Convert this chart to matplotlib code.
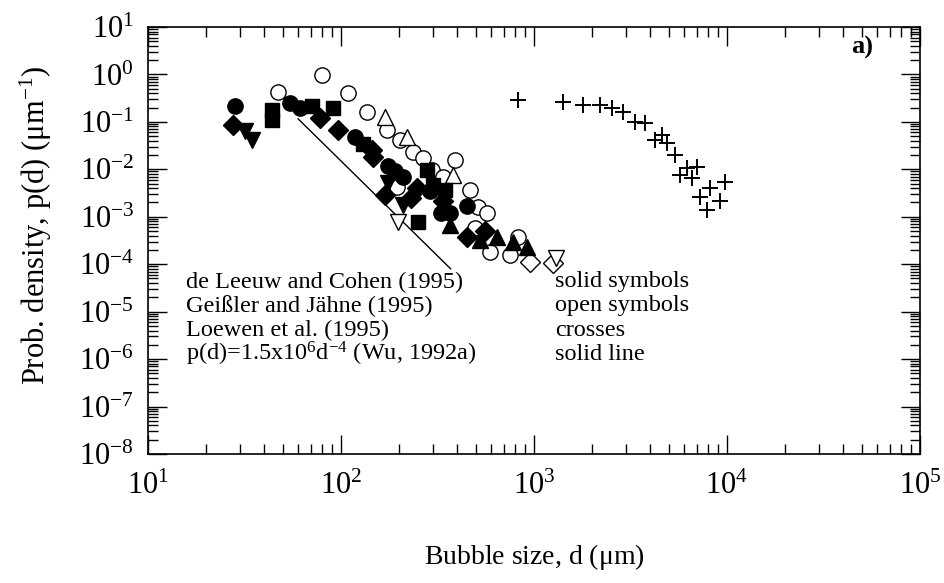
import numpy as np
import matplotlib
matplotlib.use("Agg")
import matplotlib.pyplot as plt
from matplotlib.ticker import LogLocator, LogFormatterSciNotation, NullFormatter

plt.rcParams['font.family'] = ['Liberation Serif', 'DejaVu Serif']
plt.rcParams['mathtext.fontset'] = 'custom'
plt.rcParams['mathtext.rm'] = 'Liberation Serif'
plt.rcParams['mathtext.it'] = 'Liberation Serif:italic'
plt.rcParams['mathtext.default'] = 'regular'
plt.rcParams['axes.unicode_minus'] = False

# ---- de Leeuw and Cohen (1995): solid symbols ----
solid_circle_d = [28.2, 61.4, 118, 175, 209, 290, 367, 450, 54.5, 190, 330]
solid_circle_p = [0.22, 0.20, 0.048, 0.012, 0.0068, 0.0035, 0.0012, 0.0017, 0.25, 0.009, 0.0012]

solid_diamond_d = [27.5, 77.8, 96, 145, 169, 248, 450, 337, 147, 230, 560]
solid_diamond_p = [0.086, 0.12, 0.067, 0.025, 0.0029, 0.0040, 3.7e-4, 0.0022, 0.018, 0.0025, 5.0e-4]

solid_tridown_d = [34.6, 31.8, 209, 175]
solid_tridown_p = [0.041, 0.065, 0.0018, 0.0051]

solid_square_d = [43.9, 43.9, 70.8, 91, 250, 279, 300, 346, 130]
solid_square_p = [0.109, 0.18, 0.22, 0.195, 7.7e-4, 0.0096, 0.0047, 0.0036, 0.035]

solid_triup_d = [525, 643, 778, 920, 367]
solid_triup_p = [3.2e-4, 3.7e-4, 2.9e-4, 2.3e-4, 6.6e-4]

# ---- Geissler and Jaehne (1995): open symbols ----
open_circle_d = [47.2, 79.8, 109, 137, 173, 202, 236, 266, 296, 390, 337, 466, 513, 570, 494, 195, 591, 751, 827]
open_circle_p = [0.43, 0.97, 0.41, 0.16, 0.067, 0.041, 0.023, 0.017, 0.0096, 0.0156, 0.0068, 0.0036, 0.0016, 0.0012, 5.8e-4, 0.0042, 1.8e-4, 1.55e-4, 3.7e-4]

open_triup_d = [169, 220, 380]
open_triup_p = [0.126, 0.048, 0.0075]

open_diamond_d = [953, 1253]
open_diamond_p = [1.1e-4, 1.05e-4]

open_tridown_d = [197, 1300]
open_tridown_p = [7.7e-4, 1.35e-4]

# ---- Loewen et al. (1995): crosses ----
cross_d = [827, 1413, 1794, 2198, 2537, 2891, 3337, 3758, 4236, 4604, 4888, 5377,
           5708, 6205, 6995, 6590, 8168, 9766, 7244, 9200, 7870]
cross_p = [0.29, 0.262, 0.226, 0.226, 0.195, 0.161, 0.099, 0.094, 0.041, 0.053, 0.036, 0.020,
           0.0075, 0.0106, 0.0111, 0.0065, 0.0040, 0.0054, 0.0026, 0.0022, 0.0014]

# ---- Wu (1992a) line ----
line_d = np.array([60.0, 370.0])
line_coef = 1.5e6
line_exp = -4

fig = plt.figure(figsize=(9.45, 5.83), dpi=100)
ax = fig.add_axes([0.1566, 0.2213, 0.8169, 0.7324])

ms = 11
ax.plot(line_d, line_coef * line_d ** line_exp, color='black', lw=1.0, zorder=1)

def solid(d, p, m, size=ms):
    ax.plot(d, p, linestyle='none', marker=m, ms=size, mfc='black', mec='black', mew=1.0, zorder=3)

def opened(d, p, m, size=ms):
    ax.plot(d, p, linestyle='none', marker=m, ms=size, mfc='white', mec='black', mew=1.0, zorder=2)

opened(open_circle_d, open_circle_p, 'o')
opened(open_triup_d, open_triup_p, '^')
opened(open_diamond_d, open_diamond_p, 'D', 10)
opened(open_tridown_d, open_tridown_p, 'v')
solid(solid_circle_d, solid_circle_p, 'o')
solid(solid_diamond_d, solid_diamond_p, 'D', 10)
solid(solid_tridown_d, solid_tridown_p, 'v')
solid(solid_square_d, solid_square_p, 's', 10)
solid(solid_triup_d, solid_triup_p, '^')
ax.plot(cross_d, cross_p, linestyle='none', marker='+', ms=12, mew=1.4, color='black', zorder=3)

ax.set_xscale('log')
ax.set_yscale('log')
ax.set_xlim(10, 1e5)
ax.set_ylim(1e-8, 10)

ax.xaxis.set_major_locator(LogLocator(base=10, numticks=10))
ax.yaxis.set_major_locator(LogLocator(base=10, numticks=12))
ax.xaxis.set_minor_locator(LogLocator(base=10, subs=np.arange(2, 10), numticks=12))
ax.yaxis.set_minor_locator(LogLocator(base=10, subs=np.arange(2, 10), numticks=12))
ax.xaxis.set_major_formatter(LogFormatterSciNotation())
ax.yaxis.set_major_formatter(LogFormatterSciNotation())
ax.xaxis.set_minor_formatter(NullFormatter())
ax.yaxis.set_minor_formatter(NullFormatter())

ax.tick_params(which='both', direction='in', top=True, right=True, width=1.0)
ax.tick_params(which='major', length=14, labelsize=22)
ax.tick_params(axis='x', which='major', pad=13)
ax.tick_params(axis='y', which='major', pad=10)
ax.tick_params(which='minor', length=7)
for s in ax.spines.values():
    s.set_linewidth(1.2)

ax.set_xlabel(r'Bubble size, d ($\mu$m)', fontsize=20)
ax.xaxis.set_label_coords(0.5, -0.205)
ax.set_ylabel(r'Prob. density, p(d) ($\mu$m$^{-1}$)', fontsize=22)
ax.yaxis.set_label_coords(-0.122, 0.535)

txt_left = ['de Leeuw and Cohen (1995)', 'Geißler and Jähne (1995)', 'Loewen et al. (1995)',
            r'p(d)=1.5x10$^{6}$d$^{-4}$ (Wu, 1992a)']
txt_right = ['solid symbols', 'open symbols', 'crosses', 'solid line']
ys = [282, 306, 330, 354]
for t, y in zip(txt_left, ys):
    fig.text(186 / 945, 1 - y / 583, t, fontsize=17.5, va='center', ha='left')
for t, y in zip(txt_right, ys):
    fig.text(555 / 945, 1 - y / 583, t, fontsize=17.5, va='center', ha='left')

fig.text(862 / 945, 1 - 47 / 583, 'a)', fontsize=19, fontweight='bold', va='center', ha='center')

fig.savefig('out.png', dpi=100)
